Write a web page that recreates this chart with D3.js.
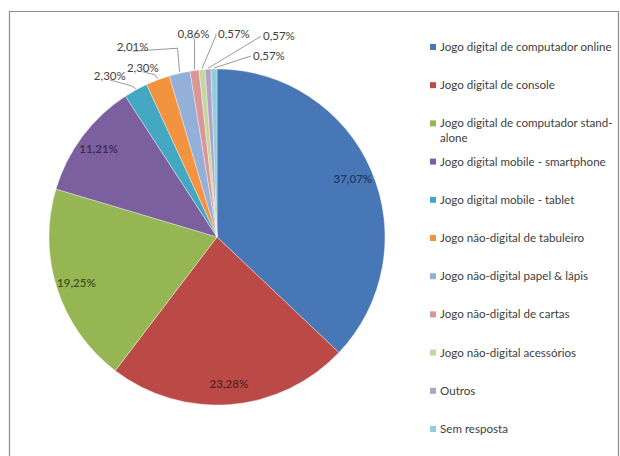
<!DOCTYPE html>
<html>
<head>
<meta charset="utf-8">
<script src="https://cdn.jsdelivr.net/npm/d3@7"></script>
<style>
  html, body { margin: 0; padding: 0; background: #fff; }
  svg { display: block; }
  text { font-family: Lato, "Open Sans", sans-serif; }
</style>
</head>
<body>
<svg id="chart" width="620" height="456"></svg>
<script>
// Categories and their shares (%)
const categories = [
  "Jogo digital de computador online",
  "Jogo digital de console",
  "Jogo digital de computador stand-alone",
  "Jogo digital mobile - smartphone",
  "Jogo digital mobile - tablet",
  "Jogo não-digital de tabuleiro",
  "Jogo não-digital papel & lápis",
  "Jogo não-digital de cartas",
  "Jogo não-digital acessórios",
  "Outros",
  "Sem resposta"
];
const values = [37.07, 23.28, 19.25, 11.21, 2.30, 2.30, 2.01, 0.86, 0.57, 0.57, 0.57];
const valueLabels = ["37,07%", "23,28%", "19,25%", "11,21%", "2,30%", "2,30%", "2,01%", "0,86%", "0,57%", "0,57%", "0,57%"];

// Slice fills and matching darker label colours
const colors = ["#4777b6", "#bb4a47", "#96b653", "#7b5f9e", "#45a8c2", "#f3923f",
                "#94b0d8", "#d99795", "#c4d79e", "#b2a2c8", "#92cddc"];
const labelColors = ["#1f3a63", "#5a1f1d", "#3e5219", "#3a2a52"];

// Legend rows: text lines for each entry (wrapped like the source layout)
const legendLines = [
  ["Jogo digital de computador online"],
  ["Jogo digital de console"],
  ["Jogo digital de computador stand-", "alone"],
  ["Jogo digital mobile - smartphone"],
  ["Jogo digital mobile - tablet"],
  ["Jogo não-digital de tabuleiro"],
  ["Jogo não-digital papel & lápis"],
  ["Jogo não-digital de cartas"],
  ["Jogo não-digital acessórios"],
  ["Outros"],
  ["Sem resposta"]
];

// Placement of labels for the thin slices, relative to the slice's outer edge point:
// [label dx, label dy, elbow dx, elbow dy, text anchor]
const outerLayout = [
  null, null, null, null,
  [-26, -14, -4, -4, "middle"],
  [-15, -12, -3, -5, "middle"],
  [-47, -26, -2, -25, "middle"],
  [-1, -37, 0, -30, "middle"],
  [16, -36, 14, -34, "start"],
  [55, -33, 53, -33, "start"],
  [39, -13, 37, -13, "start"]
];

const svg = d3.select("#chart");

// Chart frame
svg.append("path")
  .attr("d", "M9.5,456 V11.5 H618.5 V456")
  .attr("fill", "none")
  .attr("stroke", "#8c8c8c")
  .attr("stroke-width", 1.2);

const cx = 217, cy = 237, R = 168;
const g = svg.append("g").attr("transform", `translate(${cx},${cy})`);

const pie = d3.pie().sort(null).value(d => d).startAngle(0).endAngle(2 * Math.PI);
const arcs = pie(values);
const arc = d3.arc().innerRadius(0).outerRadius(R);
const labelArc = d3.arc().innerRadius(R * 0.88).outerRadius(R * 0.88);

g.selectAll("path.slice")
  .data(arcs)
  .join("path")
  .attr("class", "slice")
  .attr("d", arc)
  .attr("fill", (d, i) => colors[i])
  .attr("stroke", "#ffffff")
  .attr("stroke-opacity", 0.6)
  .attr("stroke-width", 0.6);

// Labels inside the four large slices
g.selectAll("text.inner")
  .data(arcs.slice(0, 4))
  .join("text")
  .attr("class", "inner")
  .attr("transform", d => `translate(${labelArc.centroid(d)})`)
  .attr("text-anchor", "middle")
  .attr("dy", "0.35em")
  .attr("font-size", 11.5)
  .attr("font-weight", 600)
  .attr("fill", (d, i) => labelColors[i])
  .text((d, i) => valueLabels[i]);

// Labels with leader lines for the thin slices
const edgePoint = d => {
  const a = (d.startAngle + d.endAngle) / 2;
  return [R * Math.sin(a), -R * Math.cos(a)];
};
arcs.forEach((d, i) => {
  const lay = outerLayout[i];
  if (!lay) return;
  const [ex, ey] = edgePoint(d);
  const [ldx, ldy, bdx, bdy, anchor] = lay;
  g.append("polyline")
    .attr("points", [[ex, ey - 1], [ex + bdx, ey + bdy], [ex + ldx - (anchor === "start" ? 2 : 0), ey + ldy + (anchor === "start" ? 0 : 4)]].map(p => p.join(",")).join(" "))
    .attr("fill", "none")
    .attr("stroke", "#7f7f7f")
    .attr("stroke-width", 0.8);
  g.append("text")
    .attr("x", ex + ldx)
    .attr("y", ey + ldy)
    .attr("dy", "0.35em")
    .attr("text-anchor", anchor)
    .attr("font-size", 11.5)
    .attr("fill", "#404040")
    .text(valueLabels[i]);
});

// Legend
const legendX = 433, legendTop = 47, legendStep = 38.2;
const legend = svg.append("g");
legendLines.forEach((lines, i) => {
  const y = legendTop + i * legendStep;
  legend.append("rect")
    .attr("x", legendX - 3)
    .attr("y", y - 3)
    .attr("width", 6)
    .attr("height", 6)
    .attr("fill", colors[i]);
  lines.forEach((t, j) => {
    legend.append("text")
      .attr("x", legendX + 7)
      .attr("y", y + j * 15)
      .attr("dy", "0.35em")
      .attr("font-size", 11.6)
      .attr("fill", "#404040")
      .text(t);
  });
});
</script>
</body>
</html>
